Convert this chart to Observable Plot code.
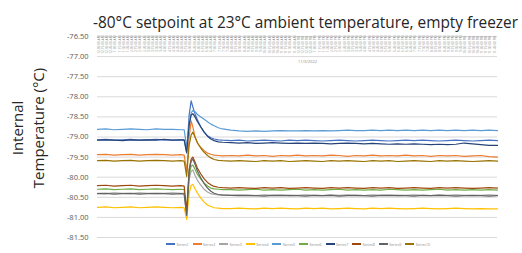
<!DOCTYPE html>
<html>
<head>
<meta charset="utf-8">
<script src="https://cdn.jsdelivr.net/npm/d3@7"></script>
<script src="https://cdn.jsdelivr.net/npm/@observablehq/plot@0.6"></script>
<style>
  body { margin: 0; background: #fff; }
  #wrap { position: relative; width: 522px; height: 253px; background: #fff; overflow: hidden; }
  #legend { position: absolute; top: 241px; left: 166px; display: flex; font-family: "Open Sans", sans-serif; }
  .item { width: 26.6px; display: flex; align-items: center; height: 6px; }
  .sw { width: 9px; height: 1.5px; margin-right: 1.5px; }
  .lb { font-size: 3.6px; color: #8c8c8c; white-space: nowrap; }
  .ytitle { position: absolute; font-family: "Open Sans", sans-serif; font-size: 15px; color: #262626;
            white-space: nowrap; transform: translate(-50%, -50%) rotate(-90deg); line-height: 1; }
</style>
</head>
<body>
<div id="wrap"><div id="legend"></div></div>
<script>
const title = "-80°C setpoint at 23°C ambient temperature, empty freezer";
const yTitleLines = ["Internal", "Temperature (°C)"];
const dateLabel = "11/3/2022";
const yTicks = [-76.5, -77, -77.5, -78, -78.5, -79, -79.5, -80, -80.5, -81, -81.5];
const seriesNames = ["Series1","Series2","Series3","Series4","Series5","Series6","Series7","Series8","Series9","Series10"];
const seriesColors = ["#4472C4","#ED7D31","#A5A5A5","#FFC000","#5B9BD5","#70AD47","#264478","#9E480E","#636363","#997300"];

// time of day in hours
const hours = [0,0.5,1,1.5,2,2.5,3,3.5,4,4.5,5,
  5.2,5.35,5.5,5.62,5.72,5.85,6,6.2,6.4,6.6,6.8,7,7.25,7.5,
  8,8.5,9,9.5,10,10.5,11,11.5,12,12.5,13,13.5,14,14.5,15,15.5,
  16,16.5,17,17.5,18,18.5,19,19.5,20,20.5,21,21.5,22,22.5,23,23.5,24];

const tickHours = d3.range(96).map(i => i * 0.25);
const timeLabels = tickHours.map(t => {
  const h = Math.floor(t), m = Math.round((t - h) * 60);
  const h12 = h % 12 === 0 ? 12 : h % 12;
  return `${h12}:${String(m).padStart(2, "0")}:00 ${h < 12 ? "AM" : "PM"}`;
});

const series1 = [-79.07,-79.06,-79.08,-79.07,-79.06,-79.08,-79.07,-79.06,-79.07,-79.08,-79.07,
  -79.08,-79.40,-78.45,-78.10,-78.25,-78.42,-78.58,-78.75,-78.88,-78.97,-79.02,-79.05,-79.07,-79.08,
  -79.09,-79.08,-79.10,-79.09,-79.08,-79.09,-79.10,-79.08,-79.09,-79.08,-79.09,
  -79.10,-79.09,-79.08,-79.09,-79.10,-79.09,-79.08,-79.09,-79.10,-79.09,-79.08,
  -79.09,-79.08,-79.09,-79.10,-79.09,-79.08,-79.09,-79.10,-79.09,-79.08,-79.09];
const series2 = [-79.44,-79.43,-79.45,-79.44,-79.43,-79.45,-79.44,-79.43,-79.44,-79.45,-79.44,
  -79.45,-79.85,-79.00,-78.60,-78.75,-79.00,-79.15,-79.26,-79.34,-79.40,-79.43,-79.45,-79.46,-79.47,
  -79.46,-79.47,-79.45,-79.47,-79.46,-79.48,-79.46,-79.47,-79.45,-79.47,-79.46,
  -79.47,-79.45,-79.46,-79.48,-79.46,-79.47,-79.45,-79.47,-79.46,-79.47,-79.45,
  -79.47,-79.46,-79.48,-79.46,-79.47,-79.46,-79.48,-79.47,-79.46,-79.49,-79.50];
const series3 = [-80.40,-80.41,-80.39,-80.40,-80.41,-80.39,-80.40,-80.41,-80.40,-80.39,-80.40,
  -80.40,-80.98,-80.05,-79.85,-79.82,-79.95,-80.08,-80.20,-80.30,-80.37,-80.41,-80.43,-80.44,-80.45,
  -80.45,-80.44,-80.45,-80.46,-80.44,-80.45,-80.44,-80.46,-80.45,-80.44,-80.45,
  -80.46,-80.44,-80.45,-80.44,-80.45,-80.46,-80.44,-80.45,-80.44,-80.46,-80.45,
  -80.44,-80.45,-80.46,-80.44,-80.45,-80.44,-80.45,-80.46,-80.45,-80.44,-80.45];
const series4 = [-80.75,-80.74,-80.76,-80.75,-80.74,-80.76,-80.75,-80.74,-80.75,-80.76,-80.75,
  -80.76,-81.05,-80.40,-80.20,-80.18,-80.28,-80.40,-80.52,-80.62,-80.69,-80.73,-80.76,-80.77,-80.78,
  -80.78,-80.77,-80.78,-80.79,-80.77,-80.78,-80.77,-80.78,-80.79,-80.77,-80.78,
  -80.77,-80.79,-80.78,-80.77,-80.78,-80.79,-80.77,-80.78,-80.77,-80.78,-80.79,
  -80.78,-80.77,-80.78,-80.79,-80.78,-80.77,-80.78,-80.79,-80.78,-80.79,-80.79];
const series5 = [-78.81,-78.80,-78.82,-78.81,-78.80,-78.81,-78.82,-78.80,-78.81,-78.81,-78.82,
  -78.82,-79.25,-78.70,-78.40,-78.34,-78.37,-78.44,-78.50,-78.56,-78.62,-78.68,-78.72,-78.77,-78.80,
  -78.83,-78.85,-78.86,-78.85,-78.86,-78.85,-78.84,-78.85,-78.85,-78.84,-78.85,
  -78.84,-78.85,-78.84,-78.83,-78.84,-78.84,-78.83,-78.84,-78.83,-78.84,-78.83,
  -78.84,-78.83,-78.84,-78.83,-78.84,-78.83,-78.84,-78.83,-78.84,-78.83,-78.84];
const series6 = [-80.30,-80.29,-80.31,-80.30,-80.29,-80.31,-80.30,-80.29,-80.30,-80.31,-80.30,
  -80.31,-80.90,-79.95,-79.72,-79.70,-79.80,-79.93,-80.05,-80.15,-80.22,-80.27,-80.29,-80.30,-80.31,
  -80.31,-80.32,-80.31,-80.30,-80.32,-80.31,-80.32,-80.31,-80.30,-80.32,-80.31,
  -80.32,-80.31,-80.30,-80.32,-80.31,-80.32,-80.31,-80.32,-80.30,-80.31,-80.32,
  -80.31,-80.32,-80.31,-80.30,-80.32,-80.31,-80.32,-80.31,-80.32,-80.31,-80.32];
const series7 = [-79.08,-79.07,-79.08,-79.09,-79.07,-79.08,-79.07,-79.08,-79.06,-79.08,-79.07,
  -79.07,-79.38,-78.70,-78.45,-78.42,-78.50,-78.62,-78.75,-78.88,-78.98,-79.05,-79.09,-79.12,-79.13,
  -79.14,-79.15,-79.14,-79.16,-79.15,-79.14,-79.15,-79.16,-79.15,-79.16,-79.15,
  -79.16,-79.17,-79.16,-79.15,-79.16,-79.17,-79.16,-79.17,-79.18,-79.17,-79.18,
  -79.17,-79.18,-79.19,-79.18,-79.19,-79.18,-79.15,-79.17,-79.19,-79.21,-79.21];
const series8 = [-80.21,-80.20,-80.22,-80.21,-80.20,-80.22,-80.21,-80.20,-80.21,-80.22,-80.21,
  -80.22,-80.85,-79.80,-79.55,-79.50,-79.62,-79.78,-79.92,-80.04,-80.13,-80.19,-80.23,-80.25,-80.26,
  -80.27,-80.26,-80.27,-80.28,-80.26,-80.27,-80.26,-80.28,-80.27,-80.26,-80.27,
  -80.28,-80.26,-80.27,-80.26,-80.27,-80.28,-80.26,-80.27,-80.26,-80.28,-80.27,
  -80.26,-80.27,-80.28,-80.26,-80.27,-80.26,-80.27,-80.28,-80.27,-80.26,-80.27];
const series9 = [-80.41,-80.40,-80.42,-80.41,-80.40,-80.42,-80.41,-80.40,-80.41,-80.42,-80.41,
  -80.42,-80.95,-79.85,-79.60,-79.55,-79.68,-79.85,-80.02,-80.16,-80.27,-80.35,-80.40,-80.43,-80.44,
  -80.45,-80.46,-80.45,-80.46,-80.47,-80.45,-80.46,-80.45,-80.46,-80.47,-80.45,
  -80.46,-80.45,-80.47,-80.46,-80.45,-80.46,-80.47,-80.45,-80.46,-80.45,-80.46,
  -80.47,-80.45,-80.46,-80.45,-80.46,-80.47,-80.46,-80.45,-80.46,-80.47,-80.46];
const series10 = [-79.59,-79.58,-79.60,-79.59,-79.58,-79.60,-79.59,-79.58,-79.59,-79.60,-79.59,
  -79.60,-79.98,-79.20,-78.95,-78.88,-79.00,-79.15,-79.28,-79.38,-79.46,-79.52,-79.56,-79.58,-79.59,
  -79.60,-79.59,-79.60,-79.61,-79.59,-79.60,-79.59,-79.61,-79.60,-79.59,-79.60,
  -79.61,-79.59,-79.60,-79.59,-79.60,-79.61,-79.59,-79.60,-79.59,-79.61,-79.60,
  -79.59,-79.60,-79.61,-79.59,-79.60,-79.59,-79.60,-79.61,-79.60,-79.59,-79.60];

const seriesValues = [series1, series2, series3, series4, series5, series6, series7, series8, series9, series10];
const data = seriesNames.flatMap((name, k) => seriesValues[k].map((v, i) => ({t: hours[i], v, s: name})));

const chart = Plot.plot({
  width: 522, height: 253,
  marginTop: 36, marginBottom: 16, marginLeft: 97, marginRight: 25,
  x: {domain: [0, 24], axis: null},
  y: {domain: [-81.5, -76.5]},
  color: {domain: seriesNames, range: seriesColors},
  style: {fontFamily: "'Open Sans', sans-serif", background: "white", overflow: "visible"},
  marks: [
    Plot.gridY(yTicks, {stroke: "#d9d9d9", strokeOpacity: 1, strokeWidth: 1}),
    Plot.axisY(yTicks, {tickSize: 0, tickPadding: 9, tickFormat: d => d.toFixed(2), fontSize: 7.5, fill: "#595959", label: null}),
    Plot.text(tickHours, {x: d => d, frameAnchor: "top", text: (d, i) => timeLabels[i], rotate: -90, textAnchor: "end", dy: -1, fontSize: 3.2, fill: "#8c8c8c"}),
    Plot.text([dateLabel], {frameAnchor: "top", dx: 10, dy: 24, fontSize: 4, fill: "#8c8c8c"}),
    Plot.line(data, {x: "t", y: "v", stroke: "s", z: "s", strokeWidth: 1.2}),
    Plot.text([title], {frameAnchor: "top", dx: 8, dy: -19, fontSize: 15.4, fill: "#262626"})
  ]
});
const wrap = document.getElementById("wrap");
wrap.insertBefore(chart, wrap.firstChild);

// y-axis title, two rotated lines left of the axis
const yTitleX = [17, 38];
yTitleLines.forEach((line, i) => {
  const d = document.createElement("div");
  d.className = "ytitle";
  d.style.left = yTitleX[i] + "px";
  d.style.top = "128px";
  d.textContent = line;
  wrap.appendChild(d);
});

const legend = document.getElementById("legend");
seriesNames.forEach((n, i) => {
  const it = document.createElement("div"); it.className = "item";
  const sw = document.createElement("span"); sw.className = "sw"; sw.style.background = seriesColors[i];
  const lb = document.createElement("span"); lb.className = "lb"; lb.textContent = n;
  it.appendChild(sw); it.appendChild(lb); legend.appendChild(it);
});
</script>
</body>
</html>
